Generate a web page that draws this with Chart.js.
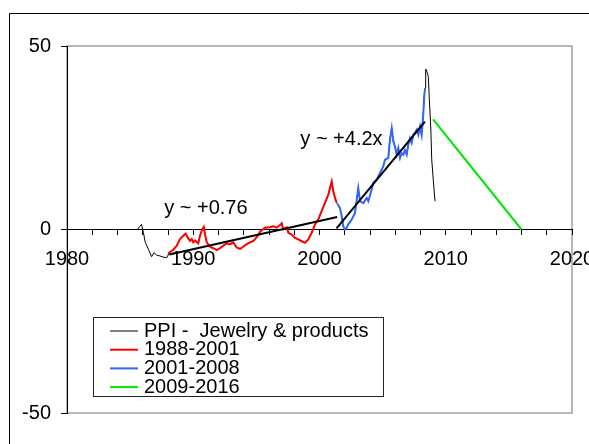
<!DOCTYPE html>
<html>
<head>
<meta charset="utf-8">
<script src="https://cdn.jsdelivr.net/npm/chart.js@4.4.1/dist/chart.umd.min.js"></script>
<style>
  body { margin: 0; background: #fff; }
  canvas { display: block; }
</style>
</head>
<body>
<canvas id="ppi-joyeria" width="589" height="444"></canvas>
<script>
// PPI - Jewelry & products, % change
const headYears = [1985.57, 1985.75, 1985.9, 1986.05, 1986.2, 1986.45, 1986.7, 1986.9, 1987.1, 1987.36, 1987.6, 1987.9, 1988.0];
const headVals  = [0, 0.8, 1.4, -0.8, -3.5, -5.4, -7.4, -6.3, -7.0, -7.2, -7.5, -7.7, -7.0];

const redYears = [1988.02, 1988.42, 1988.69, 1988.82, 1988.95, 1989.21, 1989.4, 1989.56, 1989.74, 1989.88, 1990.0, 1990.14,
  1990.4, 1990.53, 1990.72, 1990.83, 1990.93, 1991.07, 1991.33, 1991.59, 1991.86, 1992.12, 1992.38, 1992.65,
  1992.91, 1993.17, 1993.44, 1993.7, 1993.96, 1994.23, 1994.5, 1994.76, 1994.95, 1995.1, 1995.29, 1995.68,
  1996.08, 1996.34, 1996.61, 1996.87, 1997.01, 1997.13, 1997.4, 1997.53, 1997.8, 1998.06, 1998.32, 1998.59,
  1998.85, 1999.11, 1999.38, 1999.64, 1999.9, 2000.17, 2000.44, 2000.7, 2000.83, 2000.97, 2001.09, 2001.23, 2001.36];
const redVals = [-6.5, -5.5, -4.4, -3.5, -2.6, -1.7, -1.1, -2.2, -3.1, -2.6, -3.5, -3.0,
  -3.8, -1.7, 0.1, 0.7, -1.3, -3.5, -4.7, -5.1, -5.6, -5.1, -4.4, -3.8,
  -4.0, -3.5, -4.9, -5.3, -4.7, -4.0, -3.5, -3.1, -2.4, -1.7, -0.6, 0.5,
  0.6, 0.9, 0.5, 1.2, 1.7, 0, 0.6, -0.9, -1.4, -2.3, -2.7, -3.2,
  -3.6, -2.7, -0.9, 1.4, 2.7, 5.0, 7.3, 9.5, 11.3, 13.1, 10.4, 8.6, 7.3];

const blueYears = [2001.41, 2001.62, 2001.76, 2001.88, 2002.02, 2002.15, 2002.28, 2002.55, 2002.81, 2003.07, 2003.21,
  2003.47, 2003.74, 2003.87, 2004.13, 2004.26, 2004.53, 2004.79, 2005.05, 2005.19, 2005.45, 2005.58, 2005.72,
  2005.85, 2005.98, 2006.11, 2006.24, 2006.38, 2006.51, 2006.64, 2006.77, 2006.91, 2007.03, 2007.17, 2007.3,
  2007.43, 2007.56, 2007.7, 2007.83, 2007.96, 2008.09, 2008.22, 2008.28, 2008.36];
const blueVals = [7.0, 5.9, 3.6, 0.9, 0, 0.5, 1.4, 2.7, 4.5, 11.3, 7.7,
  7.2, 8.6, 7.7, 10.9, 12.7, 13.6, 15.4, 17.2, 19.0, 19.5, 24.5, 27.6,
  24.0, 22.6, 20.4, 22.2, 19.5, 20.8, 20.4, 21.7, 20.4, 23.1, 24.9, 23.6,
  25.8, 26.3, 27.2, 25.8, 28.1, 25.8, 31.3, 35.8, 38.5];

const tailYears = [2008.41, 2008.49, 2008.62, 2008.7, 2008.81, 2008.89, 2009.01, 2009.15];
const tailVals  = [43.7, 43.2, 41.7, 35.3, 28.1, 19.0, 13.6, 7.7];

const greenYears = [2009.0, 2016.0];
const greenVals  = [30, 0];

const trendAYears = [1988.1, 2001.4];
const trendAVals  = [-6.8, 3.4];
const trendBYears = [2001.35, 2008.35];
const trendBVals  = [0.3, 29.4];

const yTicks = [-50, 0, 50];
const xDecades = [1980, 1990, 2000, 2010, 2020];

const fuente = '"Liberation Sans", Arial, sans-serif';

const puntos = (xs, ys) => xs.map((x, i) => ({ x: x, y: ys[i] }));

const ppiYears = [...headYears, ...redYears, ...blueYears, ...tailYears];
const ppiVals = [...headVals, ...redVals, ...blueVals, ...tailVals];

// marco exterior y borde gris del area
const marco = {
  id: 'marco',
  beforeDraw(chart) {
    const { ctx, chartArea: a } = chart;
    ctx.save();
    ctx.strokeStyle = '#000';
    ctx.lineWidth = 1;
    ctx.beginPath();
    ctx.moveTo(9.5, 444);
    ctx.lineTo(9.5, 13.5);
    ctx.lineTo(589, 13.5);
    ctx.stroke();
    ctx.strokeStyle = '#a0a0a0';
    ctx.lineWidth = 1.5;
    ctx.strokeRect(a.left, a.top, a.right - a.left, a.bottom - a.top);
    ctx.restore();
  }
};

const notas = {
  id: 'notas',
  afterDatasetsDraw(chart) {
    const { ctx, scales } = chart;
    ctx.save();
    ctx.font = '20px ' + fuente;
    ctx.fillStyle = '#000';
    ctx.textAlign = 'center';
    ctx.textBaseline = 'middle';
    ctx.fillText('y ~ +0.76', scales.x.getPixelForValue(1991.0), scales.y.getPixelForValue(5.7));
    ctx.fillText('y ~ +4.2x', scales.x.getPixelForValue(2001.74), scales.y.getPixelForValue(24.5));
    ctx.restore();
  }
};

const leyenda = {
  id: 'leyenda',
  afterDraw(chart) {
    const ctx = chart.ctx;
    const items = chart.data.datasets.filter((d) => d.label);
    ctx.save();
    ctx.fillStyle = '#fff';
    ctx.fillRect(93, 317, 290, 79);
    ctx.strokeStyle = '#222';
    ctx.lineWidth = 1;
    ctx.strokeRect(93.5, 317.5, 290, 79);
    ctx.font = '20px ' + fuente;
    ctx.textBaseline = 'middle';
    items.forEach((d, i) => {
      const y = 331 + i * 18.7;
      ctx.strokeStyle = d.borderColor;
      ctx.lineWidth = d.borderWidth;
      ctx.beginPath();
      ctx.moveTo(110, y);
      ctx.lineTo(138, y);
      ctx.stroke();
      ctx.fillStyle = '#000';
      ctx.fillText(d.label, 144, y);
    });
    ctx.restore();
  }
};

const canvas = document.getElementById('ppi-joyeria');
const ctx = canvas.getContext('2d');

new Chart(ctx, {
  type: 'line',
  data: {
    datasets: [
      { label: 'PPI -  Jewelry & products', data: puntos(ppiYears, ppiVals), borderColor: '#000', borderWidth: 1, order: 5 },
      { label: '1988-2001', data: puntos(redYears, redVals), borderColor: '#ff0000', borderWidth: 2, order: 4 },
      { label: '2001-2008', data: puntos(blueYears, blueVals), borderColor: '#3366ff', borderWidth: 2, order: 3 },
      { label: '2009-2016', data: puntos(greenYears, greenVals), borderColor: '#00e600', borderWidth: 2, order: 2 },
      { label: '', data: puntos(trendAYears, trendAVals), borderColor: '#000', borderWidth: 2, order: 1 },
      { label: '', data: puntos(trendBYears, trendBVals), borderColor: '#000', borderWidth: 2, order: 1 }
    ]
  },
  options: {
    responsive: false,
    animation: false,
    events: [],
    elements: { point: { radius: 0 }, line: { tension: 0 } },
    layout: { padding: { left: 0, top: 46, right: 17, bottom: 31 } },
    plugins: {
      legend: { display: false },
      tooltip: { enabled: false }
    },
    scales: {
      x: {
        type: 'linear',
        min: 1980,
        max: 2020,
        position: { y: 0 },
        border: { color: '#000', width: 1 },
        grid: { drawOnChartArea: false, drawTicks: true, tickLength: 5, color: '#000' },
        ticks: {
          stepSize: 2,
          autoSkip: false,
          maxRotation: 0,
          padding: 13,
          color: '#000',
          font: { family: fuente, size: 20 },
          callback: (v) => (xDecades.includes(v) ? String(v) : '')
        },
        afterFit(scale) {
          scale.paddingLeft = 0;
          scale.paddingRight = 0;
        }
      },
      y: {
        min: -50,
        max: 50,
        position: 'left',
        border: { color: '#000', width: 1 },
        grid: { drawOnChartArea: false, drawTicks: true, tickLength: 6, color: '#000' },
        afterBuildTicks(scale) {
          scale.ticks = yTicks.map((v) => ({ value: v }));
        },
        ticks: {
          padding: 10,
          color: '#000',
          font: { family: fuente, size: 20 }
        },
        afterFit(scale) {
          scale.width = 67;
          scale.paddingTop = 0;
          scale.paddingBottom = 0;
        }
      }
    }
  },
  plugins: [marco, notas, leyenda]
});
</script>
</body>
</html>
